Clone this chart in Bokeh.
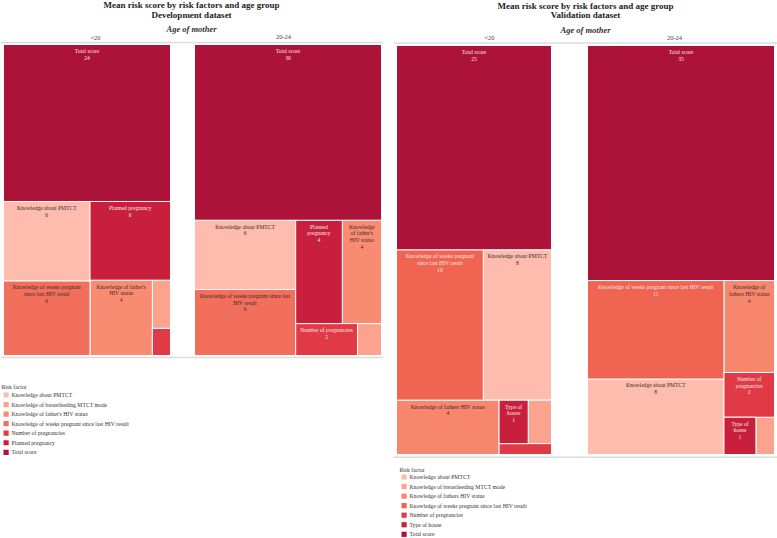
from bokeh.plotting import figure
from bokeh.models import Range1d, ColumnDataSource
from bokeh.core.properties import value
from bokeh.embed import file_html
from bokeh.resources import INLINE

# ---------------- data ----------------
age_groups = ["<20", "20-24"]

dev_factors = ["Knowledge about PMTCT", "Knowledge of breastfeeding MTCT mode",
               "Knowledge of father's HIV status",
               "Knowledge of weeks pregnant since last HIV result",
               "Number of pregnancies", "Planned pregnancy", "Total score"]
dev_lt20 = [6.3, 0.8, 4.3, 5.9, 0.45, 5.8, 24.0]
dev_20_24 = [6.4, 0.7, 3.7, 6.1, 1.8, 4.4, 30.0]

val_factors = ["Knowledge about PMTCT", "Knowledge of breastfeeding MTCT mode",
               "Knowledge of fathers HIV status",
               "Knowledge of weeks pregnant since last HIV result",
               "Number of pregnancies", "Type of house", "Total score"]
val_lt20 = [8.1, 0.8, 4.4, 10.3, 0.45, 1.0, 25.0]
val_20_24 = [8.2, 0.55, 3.7, 10.7, 1.8, 0.95, 35.0]

dev_colors = ["#fdbcad", "#fca38f", "#f98b72", "#f2705b", "#e03a46", "#c81f3d", "#ad1238"]
val_colors = ["#fdbcad", "#fca38f", "#f8866d", "#ef6551", "#e03a46", "#c81f3d", "#ad1238"]
dev_dark_text = [True, True, True, True, False, False, False]
val_dark_text = [True, True, True, False, False, False, False]

# ---------------- layout ----------------
W, H = 777, 538
FONT = "Liberation Serif"
LAB_FS = 5.6
PHI = (1 + 5 ** 0.5) / 2

charts = [
    dict(title=["Mean risk score by risk factors and age group", "Development dataset"],
         factors=dev_factors, series=[dev_lt20, dev_20_24], colors=dev_colors,
         dark=dev_dark_text, cx=191, ty=[4.5, 14.5], age_y=28.5, head_y=36.5,
         heads=[95, 283], panels=[(3, 44, 170, 355), (194, 44, 381, 355)],
         rule=(0, 383), top_rule=42, bot_rule=357,
         leg=dict(tx=1, ty=386, kx=3, x=11, y0=394.5, dy=9.55)),
    dict(title=["Mean risk score by risk factors and age group", "Validation dataset"],
         factors=val_factors, series=[val_lt20, val_20_24], colors=val_colors,
         dark=val_dark_text, cx=585, ty=[5, 14.5], age_y=29, head_y=37,
         heads=[489, 674], panels=[(396, 45, 551, 454), (587, 45, 774, 454)],
         rule=(393, 777), top_rule=42.5, bot_rule=456.8,
         leg=dict(tx=399, ty=469, kx=401, x=409, y0=476.5, dy=9.55)),
]

# Times/Liberation Serif advance widths (per 1000 em)
CW = {' ': 250, "'": 180, '-': 333, '<': 564}
CW.update({c: 500 for c in "0123456789"})
CW.update(dict(zip("ABCDEFGHIJKLMNOPQRSTUVWXYZ",
                   [722, 667, 667, 722, 611, 556, 722, 722, 333, 389, 722, 611, 889,
                    722, 722, 556, 722, 667, 556, 611, 722, 722, 944, 722, 722, 611])))
CW.update(dict(zip("abcdefghijklmnopqrstuvwxyz",
                   [444, 500, 444, 500, 444, 333, 500, 500, 278, 278, 500, 278, 778,
                    500, 500, 500, 500, 333, 389, 278, 500, 500, 722, 500, 500, 444])))


def tw(s, fs=LAB_FS):
    return sum(CW.get(c, 500) for c in s) * fs / 1000.0


def wrap(text, avail):
    words = text.split(" ")
    if any(tw(w) > avail for w in words):
        return None
    lines, cur = [], words[0]
    for w in words[1:]:
        if tw(cur + " " + w) <= avail:
            cur += " " + w
        else:
            lines.append(cur)
            cur = w
    lines.append(cur)
    return lines


def squarify(vals, x0, y0, x1, y1, ratio=PHI):
    """d3.treemapSquarify (golden ratio) layout, top-left start, y downward."""
    order = sorted(range(len(vals)), key=lambda i: -vals[i])
    nodes = [vals[i] for i in order]
    out = [None] * len(vals)
    n = len(nodes)
    i0 = i1 = 0
    total = float(sum(nodes))
    while i0 < n:
        dx, dy = x1 - x0, y1 - y0
        s = nodes[i1]
        i1 += 1
        mn = mx = s
        alpha = max(dy / dx, dx / dy) / (total * ratio)
        beta = s * s * alpha
        min_r = max(mx / beta, beta / mn)
        while i1 < n:
            v = nodes[i1]
            s2 = s + v
            mn2, mx2 = min(mn, v), max(mx, v)
            beta = s2 * s2 * alpha
            nr = max(mx2 / beta, beta / mn2)
            if nr > min_r:
                break
            s, mn, mx, min_r = s2, mn2, mx2, nr
            i1 += 1
        row = range(i0, i1)
        if dx < dy:
            yb = y0 + dy * s / total
            x = x0
            for j in row:
                w = dx * nodes[j] / s
                out[order[j]] = (x, y0, x + w, yb)
                x += w
            y0 = yb
        else:
            xb = x0 + dx * s / total
            y = y0
            for j in row:
                h = dy * nodes[j] / s
                out[order[j]] = (x0, y, xb, y + h)
                y += h
            x0 = xb
        total -= s
        i0 = i1
    return out


p = figure(width=W, height=H, x_range=Range1d(0, W), y_range=Range1d(H, 0),
           output_backend="svg", toolbar_location=None, min_border=0,
           background_fill_color="white", border_fill_color="white")
p.outline_line_color = None
p.xaxis.visible = False
p.yaxis.visible = False
p.xgrid.visible = False
p.ygrid.visible = False

rects = dict(l=[], r=[], t=[], b=[], c=[])
labs = dict(x=[], y=[], text=[], color=[])
segs = dict(x0=[], x1=[], y0=[], y1=[])
titles = dict(x=[], y=[], text=[])
ages = dict(x=[], y=[], text=[])
heads = dict(x=[], y=[], text=[])
keys = dict(l=[], r=[], t=[], b=[], c=[])
legtxt = dict(x=[], y=[], text=[])

for ch in charts:
    for k, line in enumerate(ch["title"]):
        titles["x"].append(ch["cx"]); titles["y"].append(ch["ty"][k]); titles["text"].append(line)
    ages["x"].append(ch["cx"]); ages["y"].append(ch["age_y"]); ages["text"].append("Age of mother")
    for g, hx in zip(age_groups, ch["heads"]):
        heads["x"].append(hx); heads["y"].append(ch["head_y"]); heads["text"].append(g)
    for yy in (ch["top_rule"], ch["bot_rule"]):
        segs["x0"].append(ch["rule"][0]); segs["x1"].append(ch["rule"][1])
        segs["y0"].append(yy); segs["y1"].append(yy)
    for vals, box in zip(ch["series"], ch["panels"]):
        cells = squarify(vals, *box)
        for i, (a, b, c, d) in enumerate(cells):
            rects["l"].append(a); rects["r"].append(c); rects["t"].append(b); rects["b"].append(d)
            rects["c"].append(ch["colors"][i])
            w, h = c - a, d - b
            lines = wrap(ch["factors"][i], w - 7.5)
            if lines is None:
                continue
            lines = lines + [str(int(round(vals[i])))]
            if len(lines) * 6.8 + 3 > h:
                continue
            col = "#3b2b2b" if ch["dark"][i] else "#fbe4e4"
            for k, line in enumerate(lines):
                labs["x"].append((a + c) / 2); labs["y"].append(b + 6.4 + 6.8 * k)
                labs["text"].append(line); labs["color"].append(col)
    lg = ch["leg"]
    legtxt["x"].append(lg["tx"]); legtxt["y"].append(lg["ty"]); legtxt["text"].append("Risk factor")
    for i, f in enumerate(ch["factors"]):
        yy = lg["y0"] + i * lg["dy"]
        keys["l"].append(lg["kx"]); keys["r"].append(lg["kx"] + 5.2)
        keys["t"].append(yy - 2.6); keys["b"].append(yy + 2.6); keys["c"].append(ch["colors"][i])
        legtxt["x"].append(lg["x"]); legtxt["y"].append(yy); legtxt["text"].append(f)

p.segment(x0="x0", x1="x1", y0="y0", y1="y1", source=ColumnDataSource(segs),
          line_color="#dcdcdc", line_width=1.5)
p.quad(left="l", right="r", top="t", bottom="b", fill_color="c", source=ColumnDataSource(rects),
       line_color="white", line_width=1)
p.text(x="x", y="y", text="text", text_color="color", source=ColumnDataSource(labs),
       text_font=value(FONT), text_font_size=f"{LAB_FS}px", text_align="center",
       text_baseline="middle")
p.text(x="x", y="y", text="text", source=ColumnDataSource(titles), text_color="#222222",
       text_font=value(FONT), text_font_size="9px", text_font_style="bold",
       text_align="center", text_baseline="middle")
p.text(x="x", y="y", text="text", source=ColumnDataSource(ages), text_color="#333333",
       text_font=value(FONT), text_font_size="8.5px", text_font_style="bold italic",
       text_align="center", text_baseline="middle")
p.text(x="x", y="y", text="text", source=ColumnDataSource(heads), text_color="#444444",
       text_font=value(FONT), text_font_size="6.5px", text_align="center",
       text_baseline="middle")
p.quad(left="l", right="r", top="t", bottom="b", fill_color="c", line_color=None,
       source=ColumnDataSource(keys))
p.text(x="x", y="y", text="text", source=ColumnDataSource(legtxt), text_color="#333333",
       text_font=value(FONT), text_font_size="5.7px", text_align="left",
       text_baseline="middle")

open("out.html", "w").write(file_html(p, INLINE))
